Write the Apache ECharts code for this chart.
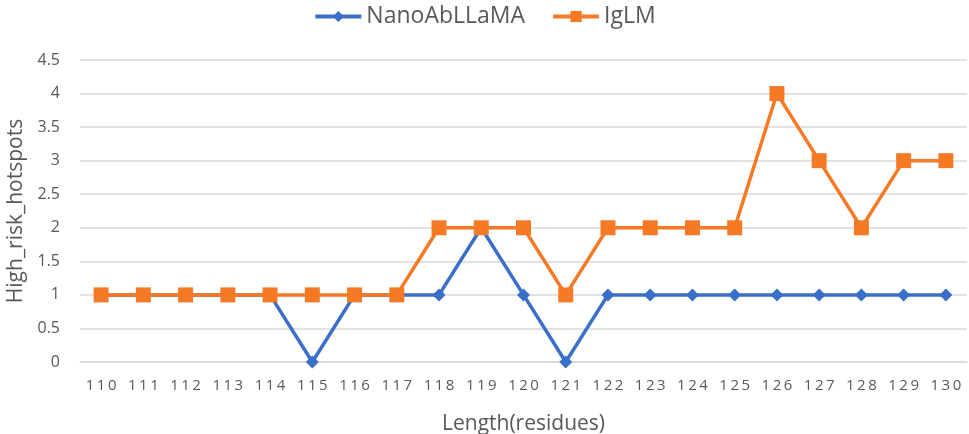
<!DOCTYPE html>
<html><head><meta charset="utf-8">
<script src="https://cdn.jsdelivr.net/npm/echarts@6/dist/echarts.min.js"></script>
<style>html,body{margin:0;padding:0;background:#fff}#c{width:969px;height:434px}</style>
</head><body><div id="c"></div>
<script>
const categories = ['110','111','112','113','114','115','116','117','118','119','120','121','122','123','124','125','126','127','128','129','130'];
const nanoAbLLaMA = [1,1,1,1,1,0,1,1,1,2,1,0,1,1,1,1,1,1,1,1,1];
const igLM = [1,1,1,1,1,1,1,1,2,2,2,1,2,2,2,2,4,3,2,3,3];
const yTicks = {min:0, max:4.5, interval:0.5};

const chart = echarts.init(document.getElementById('c'));
const font = '"Open Sans", "Noto Sans", sans-serif';
chart.setOption({
  animation:false,
  textStyle:{fontFamily:font},
  legend:{
    top:0, left:'center', itemWidth:46, itemHeight:14, itemGap:26,
    lineStyle:{width:4},
    textStyle:{fontSize:23, color:'#595959', fontFamily:font},
    data:['NanoAbLLaMA','IgLM']
  },
  grid:{left:80, right:2, top:60, bottom:72, containLabel:false, outerBoundsMode:'none'},
  xAxis:{
    type:'category', data:categories, boundaryGap:true,
    name:'Length(residues)', nameLocation:'middle', nameGap:52,
    nameTextStyle:{fontSize:21, color:'#595959', fontFamily:font},
    axisLine:{lineStyle:{color:'#d9d9d9', width:1.5}},
    axisTick:{show:false},
    axisLabel:{fontSize:15, color:'#595959', margin:16, fontFamily:font, interval:0, hideOverlap:false,
      formatter:v=>v.split('').join('\u2009')}
  },
  yAxis:{
    type:'value', min:yTicks.min, max:yTicks.max, interval:yTicks.interval,
    name:'High_risk_hotspots', nameLocation:'middle', nameGap:50,
    nameTextStyle:{fontSize:21, color:'#595959', fontFamily:font},
    axisLine:{show:false}, axisTick:{show:false},
    axisLabel:{fontSize:16, color:'#595959', margin:20, fontFamily:font},
    splitLine:{lineStyle:{color:'#d9d9d9', width:1.5}}
  },
  series:[
    {name:'NanoAbLLaMA', type:'line', data:nanoAbLLaMA, symbol:'diamond', symbolSize:13,
     lineStyle:{width:3.5, color:'#3A6FC8'}, itemStyle:{color:'#3A6FC8'}},
    {name:'IgLM', type:'line', data:igLM, symbol:'rect', symbolSize:15,
     lineStyle:{width:3.5, color:'#F67A26'}, itemStyle:{color:'#F67A26'}}
  ]
});
</script></body></html>
